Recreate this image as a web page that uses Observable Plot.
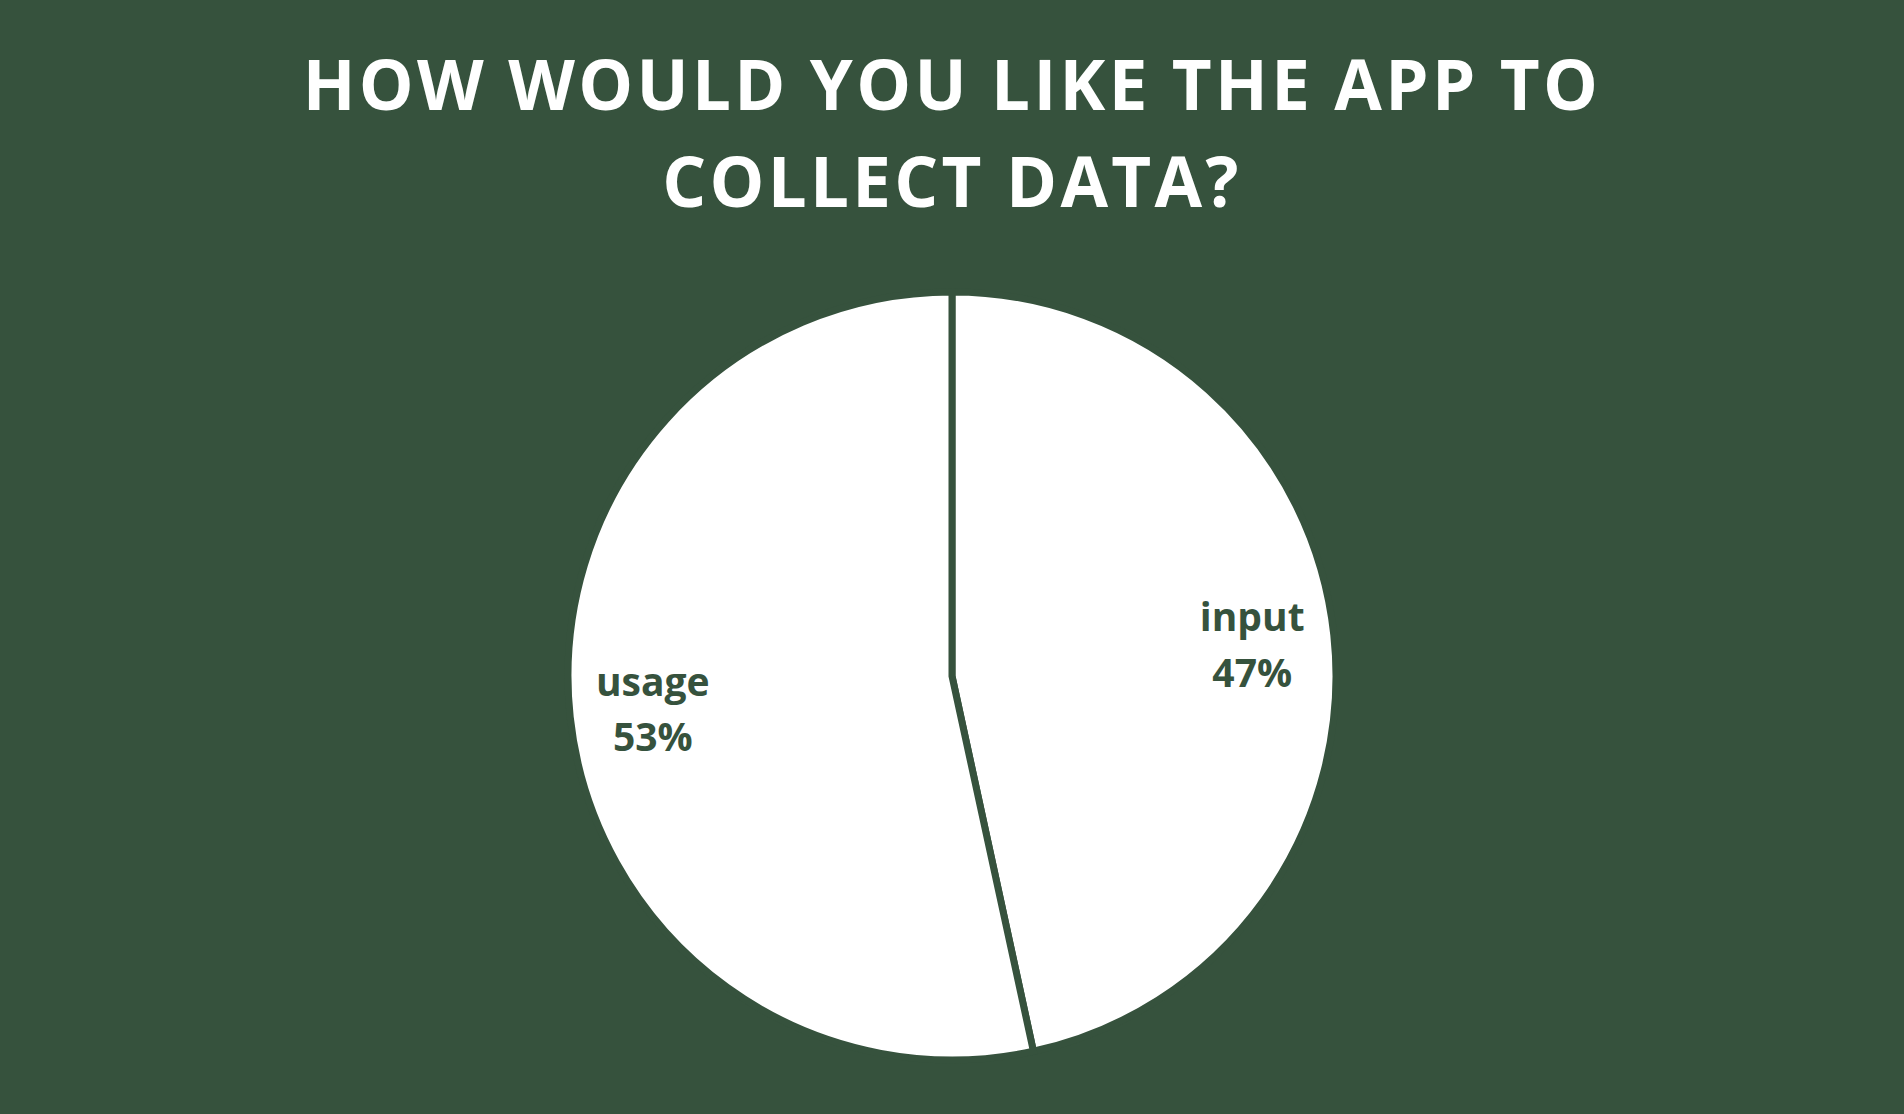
<!DOCTYPE html>
<html>
<head>
<meta charset="utf-8">
<script src="https://cdn.jsdelivr.net/npm/d3@7"></script>
<script src="https://cdn.jsdelivr.net/npm/@observablehq/plot@0.6"></script>
<style>
  html, body { margin: 0; padding: 0; background: #36523D; width: 1904px; height: 1114px; overflow: hidden; }
  #title {
    box-sizing: border-box; height: 230px; padding-top: 35px; margin: 0;
    font-family: "Open Sans", sans-serif; font-weight: 700; font-size: 69px; line-height: 97px;
    letter-spacing: 3.3px; color: #ffffff; text-align: center;
  }
  #chart svg { display: block; }
</style>
</head>
<body>
<div id="title">HOW WOULD YOU LIKE THE APP TO<br>COLLECT DATA?</div>
<div id="chart"></div>
<script>
const categories = ["input", "usage"];
const values = [46.6, 53.4];
const percentLabels = ["47%", "53%"];

const bg = "#36523D";
const data = categories.map((c, i) => ({category: c, value: values[i], label: percentLabels[i]}));
const arcs = d3.pie().sort(null).value(d => d.value)(data);
const labelRadius = 0.785;
const labelData = arcs.map(a => {
  const mid = (a.startAngle + a.endAngle) / 2;
  return {x: labelRadius * Math.sin(mid), y: labelRadius * Math.cos(mid), text: a.data.category + "\n" + a.data.label};
});

function pieMark(index, scales, vals, dimensions, context) {
  const cx = scales.x(0), cy = scales.y(0);
  const r = scales.x(1) - scales.x(0);
  const g = d3.create("svg:g").attr("transform", `translate(${cx},${cy})`);
  g.selectAll("path").data(arcs).join("path")
    .attr("d", d3.arc().innerRadius(0).outerRadius(r))
    .attr("fill", "#ffffff")
    .attr("stroke", bg)
    .attr("stroke-width", 7)
    .attr("stroke-linejoin", "miter");
  return g.node();
}

const R = 384;
const CX = 952, CY = 446;
const plot = Plot.plot({
  width: 1904,
  height: 884,
  margin: 0,
  style: {background: "transparent", overflow: "visible"},
  x: {domain: [-1, 1], range: [CX - R, CX + R], axis: null},
  y: {domain: [-1, 1], range: [CY + R, CY - R], axis: null},
  marks: [
    pieMark,
    Plot.text(labelData, {
      x: "x", y: "y", text: "text", dy: -3,
      fill: bg, fontSize: 39, fontWeight: 700, fontFamily: "Open Sans",
      lineHeight: 1.42, textAnchor: "middle"
    })
  ]
});
document.getElementById("chart").appendChild(plot);
</script>
</body>
</html>
